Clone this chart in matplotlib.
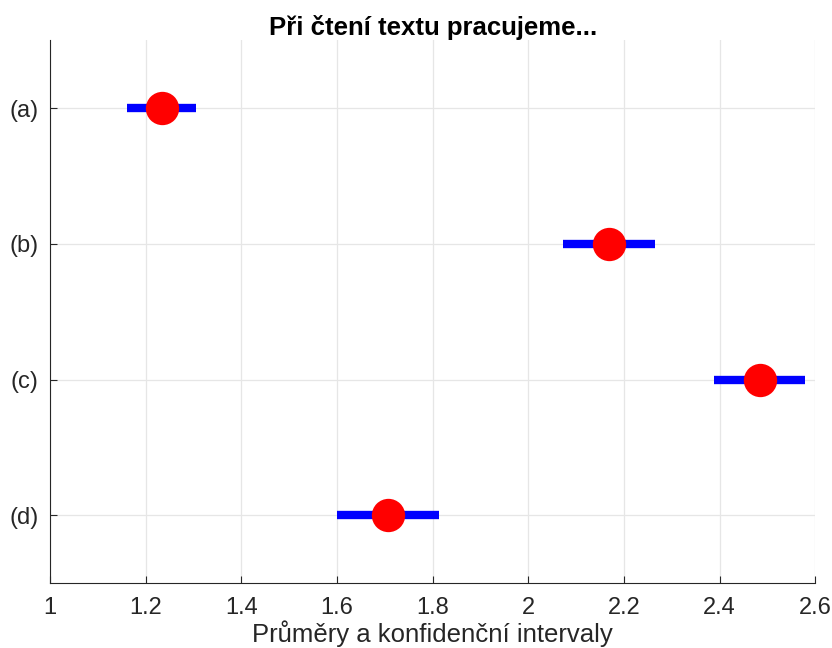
import matplotlib
matplotlib.use("Agg")
import matplotlib.pyplot as plt

labels = ["(a)", "(b)", "(c)", "(d)"]
means = [1.234, 2.169, 2.485, 1.707]
ci_low = [1.161, 2.073, 2.389, 1.600]
ci_high = [1.305, 2.264, 2.579, 1.814]
xticks = [1, 1.2, 1.4, 1.6, 1.8, 2, 2.2, 2.4, 2.6]
xticklabels = ["1", "1.2", "1.4", "1.6", "1.8", "2", "2.2", "2.4", "2.6"]

plt.rcParams['font.family'] = ['Liberation Sans', 'DejaVu Sans']

fig = plt.figure(figsize=(8.32, 6.48), dpi=100)
ax = fig.add_axes([0.060, 0.100, 0.920, 0.838])

ypos = list(range(1, len(labels) + 1))
for y, m, lo, hi in zip(ypos, means, ci_low, ci_high):
    ax.plot([lo, hi], [y, y], color='#0000ff', lw=6, solid_capstyle='butt', zorder=3)
    ax.plot([m], [y], marker='o', color='#ff0000', markersize=24, markeredgewidth=0, zorder=4)

ax.set_xlim(1, 2.6)
ax.set_ylim(4.5, 0.5)
ax.set_xticks(xticks)
ax.set_xticklabels(xticklabels)
ax.set_yticks(ypos)
ax.set_yticklabels(labels)
ax.grid(True, color='#e6e6e6', lw=0.9)
ax.set_axisbelow(True)
for s in ['top', 'right']:
    ax.spines[s].set_visible(False)
for s in ['left', 'bottom']:
    ax.spines[s].set_color('#262626')
    ax.spines[s].set_linewidth(0.8)
ax.tick_params(direction='in', length=5, colors='#262626', labelsize=17)
ax.tick_params(axis='x', pad=10)
ax.tick_params(axis='y', pad=8)
ax.set_title("Při čtení textu pracujeme...", fontsize=18.5, fontweight='bold', pad=3)
ax.set_xlabel("Průměry a konfidenční intervaly", fontsize=18.5, color='#262626', labelpad=1)

fig.savefig("out.png", dpi=100)
